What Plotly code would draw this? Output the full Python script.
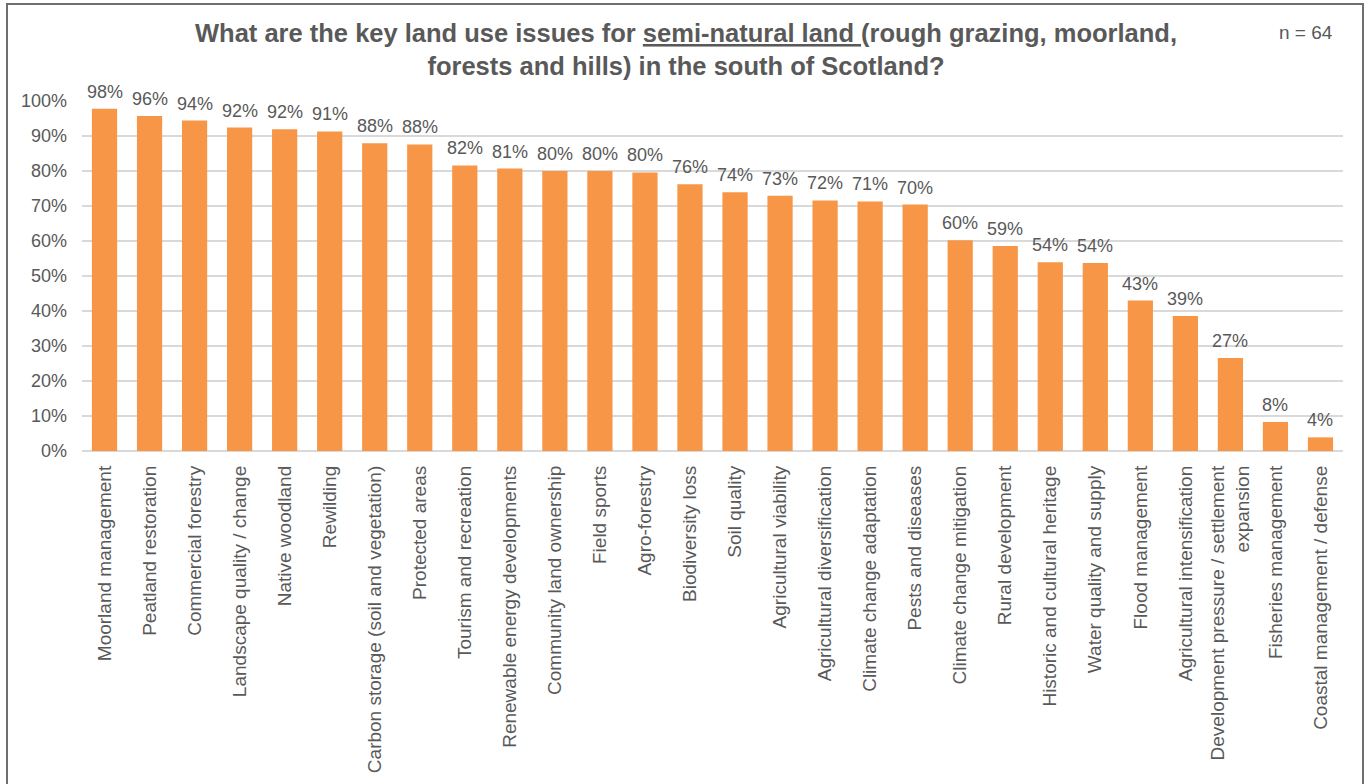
import plotly.graph_objects as go

# Share of respondents naming each land use issue (semi-natural land)
issues = [
    "Moorland management",
    "Peatland restoration",
    "Commercial forestry",
    "Landscape quality / change",
    "Native woodland",
    "Rewilding",
    "Carbon storage (soil and vegetation)",
    "Protected areas",
    "Tourism and recreation",
    "Renewable energy developments",
    "Community land ownership",
    "Field sports",
    "Agro-forestry",
    "Biodiversity loss",
    "Soil quality",
    "Agricultural viability",
    "Agricultural diversification",
    "Climate change adaptation",
    "Pests and diseases",
    "Climate change mitigation",
    "Rural development",
    "Historic and cultural heritage",
    "Water quality and supply",
    "Flood management",
    "Agricultural intensification",
    "Development pressure / settlement<br>expansion",
    "Fisheries management",
    "Coastal management / defense",
]
share = [
    0.978, 0.957, 0.944, 0.924, 0.919, 0.913, 0.879, 0.876,
    0.816, 0.807, 0.800, 0.800, 0.796, 0.762, 0.739, 0.729,
    0.716, 0.713, 0.704, 0.602, 0.586, 0.539, 0.537, 0.430,
    0.386, 0.266, 0.083, 0.039,
]
y_ticks = [i / 10 for i in range(11)]
sample_note = "n = 64"

ORANGE = "#F79646"
GREY_TEXT = "#595959"
GRID = "#D9D9D9"
FONT = "Liberation Sans, Arial, sans-serif"

W, H = 1367, 784
left, right, top, bottom = 82, 24, 101, 333
pw, ph = W - left - right, H - top - bottom

fig = go.Figure(
    go.Bar(
        x=issues,
        y=share,
        marker=dict(color=ORANGE, line=dict(width=0)),
        hoverinfo="skip",
    )
)

# value labels sitting just above each bar
value_labels = [
    dict(
        x=cat,
        y=val,
        xref="x",
        yref="y",
        text=f"{round(val * 100):d}%",
        showarrow=False,
        xanchor="center",
        yanchor="bottom",
        yshift=5,
        font=dict(size=18, color=GREY_TEXT, family=FONT),
    )
    for cat, val in zip(issues, share)
]

fig.update_layout(
    width=W,
    height=H,
    margin=dict(l=left, r=right, t=top, b=bottom, pad=0),
    paper_bgcolor="white",
    plot_bgcolor="white",
    bargap=0.44,
    showlegend=False,
    font=dict(family=FONT, color=GREY_TEXT, size=18),
    title=dict(
        text="<b>What are the key land use issues for <u>semi-natural land </u>(rough grazing, moorland,"
             "<br>forests and hills) in the south of Scotland?</b>",
        font=dict(size=25.5, color=GREY_TEXT, family=FONT),
        x=686 / W,
        xref="container",
        xanchor="center",
        y=1 - 42 / H,
        yref="container",
        yanchor="middle",
    ),
    xaxis=dict(
        tickangle=-90,
        tickfont=dict(size=19, color=GREY_TEXT, family=FONT),
        showgrid=False,
        showline=False,
        ticks="",
        ticklabelstandoff=10,
        fixedrange=True,
    ),
    yaxis=dict(
        range=[0, 1],
        tickvals=y_ticks,
        tickformat=".0%",
        tickfont=dict(size=18, color=GREY_TEXT, family=FONT),
        showgrid=True,
        gridcolor=GRID,
        gridwidth=1.5,
        zeroline=True,
        zerolinecolor=GRID,
        zerolinewidth=1.5,
        showline=False,
        ticks="",
        ticklabelstandoff=14,
        fixedrange=True,
    ),
    annotations=value_labels + [
        dict(
            text=sample_note,
            xref="paper",
            yref="paper",
            x=(1335 - left) / pw,
            y=(H - bottom - 33) / ph,
            xanchor="right",
            yanchor="middle",
            showarrow=False,
            font=dict(size=19, color=GREY_TEXT, family=FONT),
        )
    ],
    shapes=[
        dict(
            type="rect",
            xref="paper",
            yref="paper",
            x0=(7 - left) / pw,
            x1=(1363 - left) / pw,
            y0=(H - bottom - 800) / ph,
            y1=(H - bottom - 4) / ph,
            line=dict(color="#6E6E6E", width=2),
            fillcolor="rgba(0,0,0,0)",
            layer="above",
        )
    ],
)

fig.write_html("out.html")
